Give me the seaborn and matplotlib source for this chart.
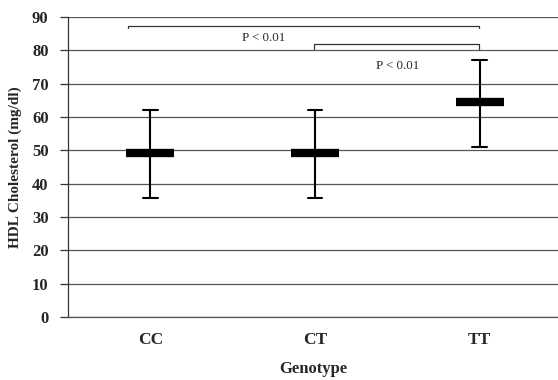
import matplotlib
matplotlib.use("Agg")
import matplotlib.pyplot as plt
import seaborn as sns
import pandas as pd
import numpy as np

genotypes = ["CC", "CT", "TT"]
means = [49.2, 49.2, 64.4]
lower = [35.8, 35.8, 50.9]
upper = [62.1, 62.1, 77.0]
yticks = [0, 10, 20, 30, 40, 50, 60, 70, 80, 90]
p_labels = ["P < 0.01", "P < 0.01"]

rows = []
for g, lo, m, hi in zip(genotypes, lower, means, upper):
    for v in (lo, m, hi):
        rows.append({"Genotype": g, "HDL": v})
df = pd.DataFrame(rows)

sns.set_style("white")
plt.rcParams["font.family"] = ["Liberation Serif", "DejaVu Serif"]
plt.rcParams["font.weight"] = "bold"

fig = plt.figure(figsize=(5.58, 3.80), dpi=100)
ax = fig.add_axes([68 / 558, 1 - 317 / 380, 1 - 68 / 558, 300 / 380])

sns.pointplot(data=df, x="Genotype", y="HDL", order=genotypes,
              estimator="median", errorbar=lambda v: (v.min(), v.max()),
              color="black", marker="_", markersize=34, markeredgewidth=6,
              linestyle="none", capsize=0.09, err_kws={"linewidth": 1.5},
              ax=ax)

ax.set_ylim(0, 90)
ax.set_xlim(-0.5, 2.475)
ax.set_yticks(yticks)
ax.set_yticklabels([str(t) for t in yticks], fontsize=12, fontweight="bold")
ax.yaxis.grid(True, color="#555555", linewidth=0.9)
ax.set_axisbelow(True)
for s in ["top", "right"]:
    ax.spines[s].set_visible(False)
ax.spines["left"].set_color("#333333")
ax.spines["bottom"].set_color("#555555")
ax.spines["left"].set_linewidth(0.9)
ax.spines["bottom"].set_linewidth(0.9)
ax.tick_params(axis="y", length=6, width=0.9, color="#333333", pad=8, left=True)
ax.tick_params(axis="x", which="major", length=0, pad=11, labelsize=12.5)
for lab in ax.get_xticklabels():
    lab.set_fontweight("bold")
ax.set_xticks([0.5, 1.5], minor=True)
ax.tick_params(axis="x", which="minor", length=8, direction="inout", width=0.9, color="#333333")

ax.set_xlabel("Genotype", fontsize=12, fontweight="bold", labelpad=9)
ax.set_ylabel("HDL Cholesterol (mg/dl)", fontsize=11, fontweight="bold", labelpad=7)

# significance brackets
ax.plot([-0.133, -0.133, 1.994, 1.994], [86.8, 87.4, 87.4, 86.8], color="#333333", lw=0.9, clip_on=False)
ax.text(0.69, 83.7, p_labels[0], ha="center", va="center", fontsize=9.3, fontweight="normal")
ax.plot([0.994, 0.994, 1.994, 1.994], [80.4, 82.0, 82.0, 80.4], color="#333333", lw=0.9, clip_on=False)
ax.text(1.5, 75.4, p_labels[1], ha="center", va="center", fontsize=9.3, fontweight="normal")

fig.savefig("out.png", dpi=100)
